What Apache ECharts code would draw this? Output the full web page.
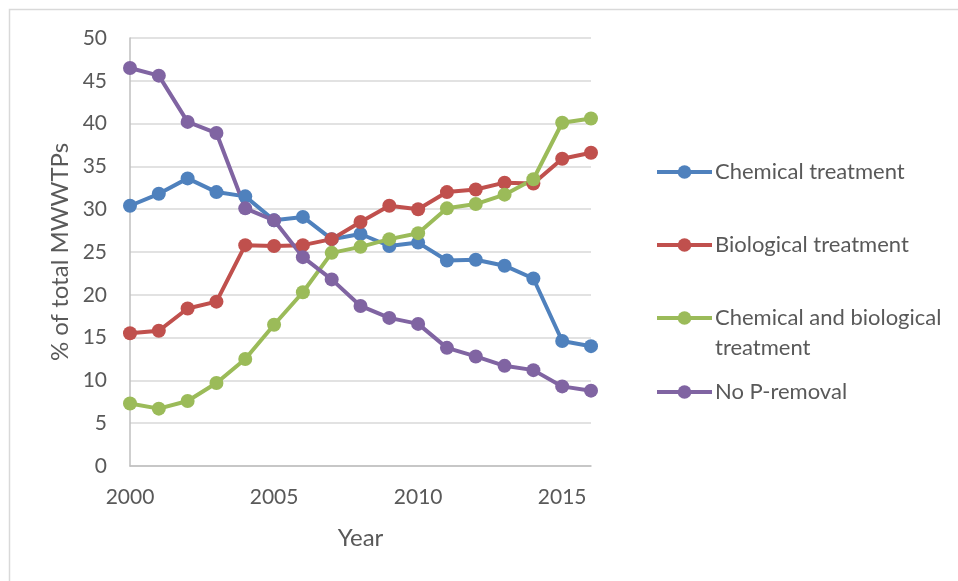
<!DOCTYPE html>
<html><head><meta charset="utf-8">
<script src="https://cdn.jsdelivr.net/npm/echarts@6/dist/echarts.min.js"></script>
<style>html,body{margin:0;padding:0;background:#fff}#c{width:958px;height:581px}</style>
</head><body><div id="c"></div>
<script>
const years = ['2000','2001','2002','2003','2004','2005','2006','2007','2008','2009','2010','2011','2012','2013','2014','2015','2016'];
const seriesNames = ['Chemical treatment','Biological treatment','Chemical and biological treatment','No P-removal'];
const chemical = [30.4,31.8,33.6,32.0,31.5,28.7,29.1,26.5,27.1,25.7,26.1,24.0,24.1,23.4,21.9,14.6,14.0];
const biological = [15.5,15.8,18.4,19.2,25.8,25.7,25.8,26.5,28.5,30.4,30.0,32.0,32.3,33.1,33.0,35.9,36.6];
const chemBio = [7.3,6.7,7.6,9.7,12.5,16.5,20.3,24.9,25.6,26.5,27.2,30.1,30.6,31.7,33.5,40.1,40.6];
const noP = [46.5,45.6,40.2,38.9,30.1,28.7,24.4,21.8,18.7,17.3,16.6,13.8,12.8,11.7,11.2,9.3,8.8];
const colors = ['#4F81BD','#C0504D','#9BBB59','#8064A2'];
const yTicks = {min:0, max:50, interval:5};
const FONT = 'Lato';

const chart = echarts.init(document.getElementById('c'));
const dataSets = [chemical, biological, chemBio, noP];
const legendTops = [157, 230, 273, 377];
const legends = seriesNames.map((n,i)=>({
  data:[n], left:655, top:legendTops[i], orient:'vertical',
  itemWidth:55, itemHeight:17, itemGap:0, padding:0,
  lineStyle:{width:4},
  formatter: n === 'Chemical and biological treatment' ? '\nChemical and biological\ntreatment' : '{name}',
  textStyle:{fontFamily:FONT, fontSize:22, color:'#595959', lineHeight:30, padding:[0,0,0,-2]}
}));
chart.setOption({
  animation:false,
  color: colors,
  graphic:[{type:'polyline', shape:{points:[[9.5,581],[9.5,9.5],[958,9.5]]}, style:{fill:null, stroke:'#D9D9D9', lineWidth:1.5}}],
  legend: legends,
  grid:{left:130, right:367, top:38, bottom:115, containLabel:false},
  xAxis:{type:'category', data:years, boundaryGap:false,
    name:'Year', nameLocation:'middle', nameGap:60,
    nameTextStyle:{fontFamily:FONT, fontSize:24, color:'#595959'},
    axisLine:{lineStyle:{color:'#BFBFBF', width:1.5}},
    axisTick:{show:false},
    axisLabel:{interval:(i)=>i%5===0, fontFamily:FONT, fontSize:21, color:'#595959', margin:21},
    splitLine:{show:false}},
  yAxis:{type:'value', min:yTicks.min, max:yTicks.max, interval:yTicks.interval,
    name:'% of total MWWTPs', nameLocation:'middle', nameGap:58,
    nameTextStyle:{fontFamily:FONT, fontSize:24, color:'#595959'},
    axisLine:{show:true, lineStyle:{color:'#BFBFBF', width:1.5}},
    axisTick:{show:false},
    axisLabel:{fontFamily:FONT, fontSize:21, color:'#595959', margin:23},
    splitLine:{lineStyle:{color:'#D9D9D9', width:1.5}}},
  series: seriesNames.map((n,i)=>({
    name:n, type:'line', data:dataSets[i],
    symbol:'circle', symbolSize:14,
    lineStyle:{width:4, color:colors[i]},
    itemStyle:{color:colors[i]}
  }))
});
</script></body></html>
